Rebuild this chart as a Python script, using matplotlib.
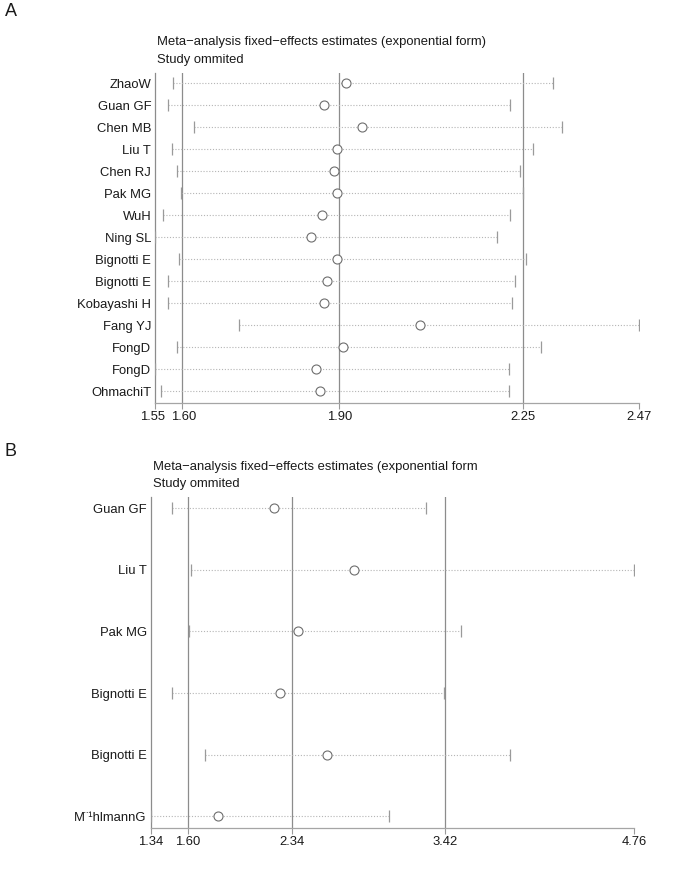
import matplotlib
matplotlib.use("Agg")
import matplotlib.pyplot as plt
from matplotlib.transforms import ScaledTranslation

plt.rcParams['font.family'] = ['Liberation Sans', 'DejaVu Sans']

# ---------------- Panel A data ----------------
studies_a = ["ZhaoW", "Guan GF", "Chen MB", "Liu T", "Chen RJ", "Pak MG", "WuH",
             "Ning SL", "Bignotti E", "Bignotti E", "Kobayashi H", "Fang YJ",
             "FongD", "FongD", "OhmachiT"]
est_a = [1.912, 1.872, 1.943, 1.895, 1.890, 1.896, 1.867, 1.846, 1.896, 1.877,
         1.872, 2.054, 1.907, 1.856, 1.863]
lo_a = [1.584, 1.575, 1.624, 1.582, 1.592, 1.598, 1.565, 1.550, 1.595, 1.575,
        1.574, 1.709, 1.591, 1.550, 1.560]
hi_a = [2.307, 2.225, 2.324, 2.269, 2.244, 2.250, 2.226, 2.200, 2.256, 2.235,
        2.228, 2.470, 2.285, 2.224, 2.224]
ticks_a = [1.55, 1.60, 1.90, 2.25, 2.47]
ref_a = [1.60, 1.90, 2.25]

# ---------------- Panel B data ----------------
studies_b = ["Guan GF", "Liu T", "Pak MG", "Bignotti E", "Bignotti E", "M¨¹hlmannG"]
est_b = [2.213, 2.779, 2.382, 2.253, 2.588, 1.812]
lo_b = [1.491, 1.625, 1.607, 1.491, 1.724, 1.340]
hi_b = [3.288, 4.760, 3.532, 3.414, 3.879, 3.026]
ticks_b = [1.34, 1.60, 2.34, 3.42, 4.76]
ref_b = [1.60, 2.34, 3.42]

W, H = 685, 885
fig = plt.figure(figsize=(W / 100, H / 100), dpi=100)


def px_axes(l, r, t, b):
    return fig.add_axes([l / W, 1 - b / H, (r - l) / W, (b - t) / H])


FS = 9.4
LINE_GRAY = '#8c8c8c'
TXT = '#1a1a1a'


def draw(ax, names, est, lo, hi, ticks, refs, ypad_top, ypad_bot, label_shift=None):
    n = len(names)
    ys = list(range(n, 0, -1))
    for r in refs:
        ax.axvline(r, color=LINE_GRAY, lw=0.9, zorder=1)
    ax.hlines(ys, lo, hi, colors='#b5b5b5', linestyles=(0, (1, 1.6)), lw=0.8, zorder=2)
    ax.plot(lo, ys, ls='none', marker='|', ms=9, mew=0.9, color='#9a9a9a', zorder=3)
    ax.plot(hi, ys, ls='none', marker='|', ms=9, mew=0.9, color='#9a9a9a', zorder=3)
    ax.plot(est, ys, ls='none', marker='o', ms=6.5, mfc='white', mec='#6e6e6e',
            mew=0.8, zorder=4)
    ax.set_xlim(ticks[0], ticks[-1])
    ax.set_ylim(1 - ypad_bot, n + ypad_top)
    ax.set_yticks(ys)
    ax.set_yticklabels(names, fontsize=FS, color=TXT)
    ax.set_xticks(ticks)
    ax.set_xticklabels([f"{t:.2f}" for t in ticks], fontsize=FS, color=TXT)
    ax.tick_params(axis='y', length=0, pad=3)
    ax.tick_params(axis='x', length=4, width=0.8, color='#9a9a9a', pad=2)
    if label_shift:
        for lab, dx in zip(ax.get_xticklabels(), label_shift):
            lab.set_transform(lab.get_transform() + ScaledTranslation(dx / 100, 0, fig.dpi_scale_trans))
    for s in ['top', 'right']:
        ax.spines[s].set_visible(False)
    ax.spines['left'].set_color(LINE_GRAY)
    ax.spines['left'].set_linewidth(0.9)
    ax.spines['bottom'].set_color('#a5a5a5')
    ax.spines['bottom'].set_linewidth(0.9)
    ax.set_facecolor('white')


axA = px_axes(155.3, 638.7, 72.7, 402.7)
draw(axA, studies_a, est_a, lo_a, hi_a, ticks_a, ref_a, 0.48, 0.52,
     label_shift=[-2.5, 2.5, 0, 0, 0])
axB = px_axes(151, 634.3, 497, 827.7)
draw(axB, studies_b, est_b, lo_b, hi_b, ticks_b, ref_b, 0.18, 0.185)

fig.text(157 / W, 1 - 42.5 / H, "Meta\u2212analysis fixed\u2212effects estimates (exponential form)",
         fontsize=FS, va='center', ha='left', color=TXT)
fig.text(157 / W, 1 - 59.5 / H, "Study ommited", fontsize=FS, va='center', ha='left', color=TXT)
fig.text(153 / W, 1 - 467 / H, "Meta\u2212analysis fixed\u2212effects estimates (exponential form",
         fontsize=FS, va='center', ha='left', color=TXT)
fig.text(153 / W, 1 - 484 / H, "Study ommited", fontsize=FS, va='center', ha='left', color=TXT)

fig.text(5 / W, 1 - 12 / H, "A", fontsize=13, va='center', ha='left', color=TXT)
fig.text(5 / W, 1 - 452 / H, "B", fontsize=13, va='center', ha='left', color=TXT)

fig.savefig("out.png", dpi=100, facecolor='white')
